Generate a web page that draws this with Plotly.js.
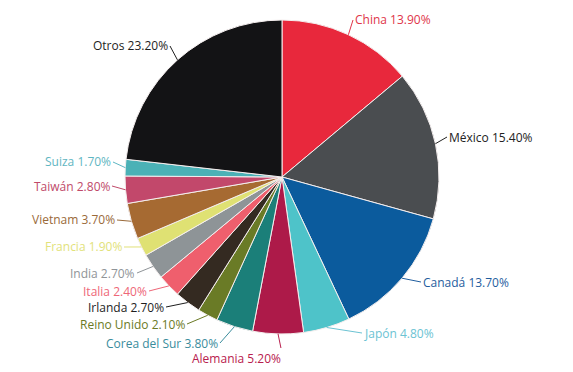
<!DOCTYPE html>
<html>
<head>
<meta charset="utf-8">
<script src="https://cdn.plot.ly/plotly-3.0.1.min.js"></script>
<style>html,body{margin:0;padding:0;background:#fff;}#chart{width:573px;height:372px;}</style>
</head>
<body>
<div id="chart"></div>
<script>
// Data (clockwise from 12 o'clock)
const countries = ["China","México","Canadá","Japón","Alemania","Corea del Sur","Reino Unido","Irlanda","Italia","India","Francia","Vietnam","Taiwán","Suiza","Otros"];
const shares = [13.9,15.4,13.7,4.8,5.2,3.8,2.1,2.7,2.4,2.7,1.9,3.7,2.8,1.7,23.2];
const sliceColors = ["#e8283c","#4a4d50","#0b5b9d","#4ec3c9","#ad1a49","#1b7f79","#6a7b26","#342a21","#ef5f6d","#8e9497","#dfe173","#a66a32","#c2486b","#4bb1b6","#131315"];
const labelColors = ["#e0354a","#222222","#1f5d9e","#6cc3d3","#b8204e","#3a8c9c","#6b7a25","#1e1e1e","#ee6677","#8f9498","#e2e27a","#9a6a3a","#c04a6a","#5fb6c2","#1e1e1e"];
// label placement (pixels): anchor point of the text and side
const labelX = [353,447,421,362,283,220,187,166,149,137,124,117,112,113,170];
const labelY = [20,137,282,333,358,343,324,307,291,273,247,220,186,162,46];
const labelSide = ["left","left","left","left","right","right","right","right","right","right","right","right","right","right","right"];

const W = 573, H = 372, cx = 282, cy = 177, R = 157;
const total = shares.reduce((a,b)=>a+b,0);

const annotations = [];
let cum = 0;
shares.forEach((v,i)=>{
  const mid = (cum + v/2)/total*2*Math.PI;
  cum += v;
  const px = cx + R*Math.sin(mid), py = cy - R*Math.cos(mid);
  annotations.push({
    x: px/W, y: 1 - py/H, xref:'paper', yref:'paper',
    text: countries[i] + ' ' + v.toFixed(2) + '%',
    showarrow: true, arrowhead: 0, arrowwidth: 1, arrowcolor: labelColors[i],
    ax: labelX[i] - px, ay: labelY[i] - py,
    xanchor: labelSide[i], yanchor: 'middle',
    font: {family: 'Open Sans', size: 12, color: labelColors[i]}
  });
});

const trace = {
  type: 'pie', labels: countries, values: shares, sort: false,
  direction: 'clockwise', rotation: 0,
  marker: {colors: sliceColors, line: {color: '#f4eeee', width: 1}},
  textinfo: 'none', hoverinfo: 'label+percent',
  domain: {x: [(cx-R)/W, (cx+R)/W], y: [1-(cy+R)/H, 1-(cy-R)/H]}
};

Plotly.newPlot('chart', [trace], {
  width: W, height: H, margin: {l:0,r:0,t:0,b:0},
  showlegend: false, paper_bgcolor: '#ffffff',
  annotations: annotations
}, {displayModeBar: false, staticPlot: true});
</script>
</body>
</html>
